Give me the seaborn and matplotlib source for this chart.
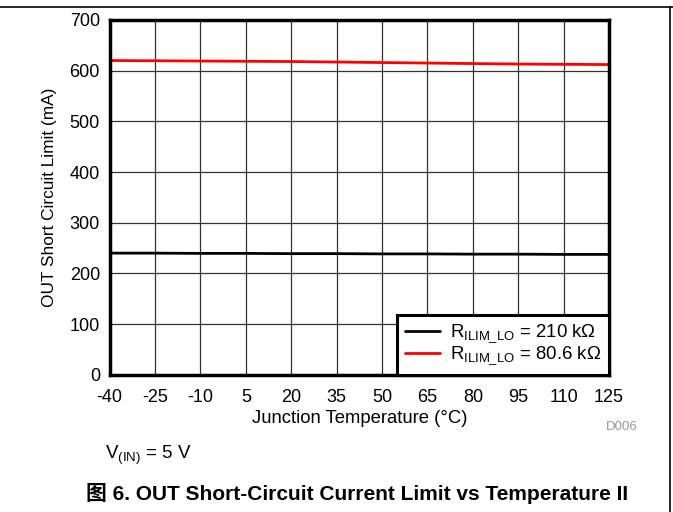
import numpy as np
import pandas as pd
import matplotlib
matplotlib.use("Agg")
import matplotlib.pyplot as plt
import seaborn as sns
from matplotlib.lines import Line2D

# values
temps = [-40, -25, -10, 5, 20, 35, 50, 65, 80, 95, 110, 125]
limit_210k = [240, 240, 239.5, 239.5, 239, 239, 238.5, 238.5, 238, 238, 237.5, 237.5]
limit_80k6 = [620, 619.5, 619, 618.5, 618, 617, 616, 615, 614, 613, 612.5, 612]
series_labels = [r'R$_{\mathregular{ILIM\_LO}}$ = 210 k$\Omega$',
                 r'R$_{\mathregular{ILIM\_LO}}$ = 80.6 k$\Omega$']
xticks = temps
yticks = [0, 100, 200, 300, 400, 500, 600, 700]

df = pd.DataFrame({
    'temp': temps * 2,
    'limit': limit_210k + limit_80k6,
    'series': [series_labels[0]] * len(temps) + [series_labels[1]] * len(temps),
})

sns.set_style("white")
plt.rcParams['font.family'] = ['Liberation Sans', 'Noto Sans CJK SC', 'DejaVu Sans']
plt.rcParams['mathtext.fontset'] = 'custom'
plt.rcParams['mathtext.rm'] = 'Liberation Sans'
plt.rcParams['mathtext.it'] = 'Liberation Sans'
plt.rcParams['axes.unicode_minus'] = False
plt.rcParams['text.color'] = 'black'
plt.rcParams['axes.labelcolor'] = 'black'

fig = plt.figure(figsize=(6.73, 5.12), dpi=100)
ax = fig.add_axes([0.163, 0.268, 0.742, 0.693])

sns.lineplot(data=df, x='temp', y='limit', hue='series',
             palette=['black', '#ff0000'], linewidth=2, ax=ax)

ax.set_xlim(-40, 125)
ax.set_ylim(0, 700)
ax.set_xticks(xticks)
ax.set_yticks(yticks)
ax.tick_params(length=0, labelsize=13, colors='black')
ax.tick_params(axis='x', pad=10)
ax.tick_params(axis='y', pad=7)
ax.grid(True, color='#333333', linewidth=0.9)
for s in ax.spines.values():
    s.set_linewidth(2.5)
    s.set_color('black')
ax.set_xlabel('Junction Temperature (°C)', fontsize=13.3, labelpad=3)
ax.set_ylabel('OUT Short Circuit Limit (mA)', fontsize=12.4, labelpad=9)

leg = ax.legend(loc='lower right', fontsize=13.4, frameon=True, fancybox=False,
                borderaxespad=0, handlelength=1.9, handletextpad=0.55,
                labelspacing=0.0, borderpad=0.4)
leg.get_frame().set_edgecolor('black')
leg.get_frame().set_linewidth(2.2)
leg.get_frame().set_alpha(1)

fig.text(0.947, 0.166, 'D006', fontsize=9.5, color='#999999', ha='right', va='center')
fig.text(0.156, 0.11, r'V$_{\mathregular{(IN)}}$ = 5 V', fontsize=13.5, ha='left', va='center')
fig.text(0.531, 0.037, '图 6. OUT Short-Circuit Current Limit vs Temperature II',
         fontsize=15, fontweight='bold', ha='center', va='center')

# page frame lines
fig.add_artist(Line2D([0, 1], [0.986, 0.986], color='black', linewidth=1.2,
                      transform=fig.transFigure))
fig.add_artist(Line2D([0.996, 0.996], [0, 0.986], color='black', linewidth=1.2,
                      transform=fig.transFigure))

fig.savefig('out.png', dpi=100)
